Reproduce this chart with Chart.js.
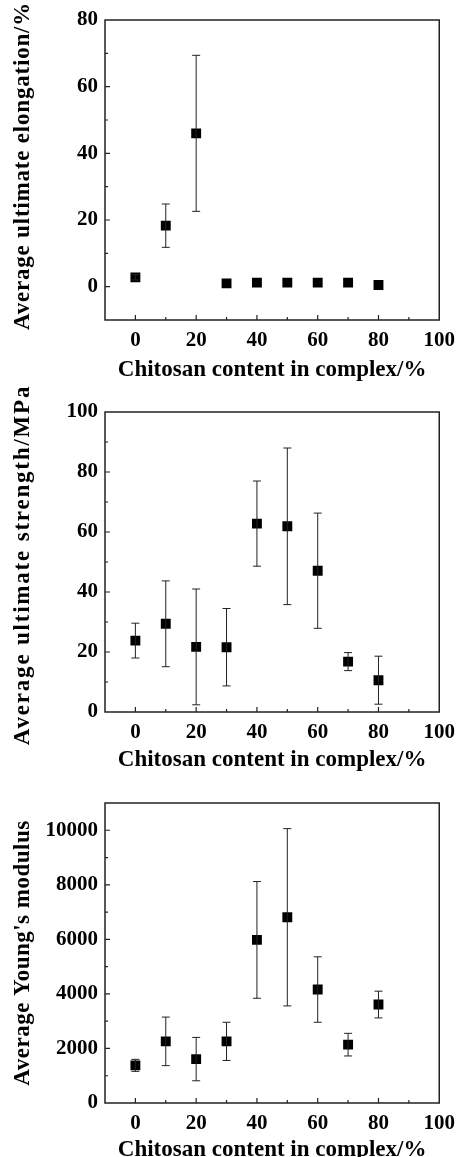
<!DOCTYPE html>
<html>
<head>
<meta charset="utf-8">
<script src="https://cdn.jsdelivr.net/npm/chart.js@4/dist/chart.umd.min.js"></script>
<style>
  html, body { margin: 0; padding: 0; background: #fff; overflow: hidden; }
  #wrap { position: relative; width: 463px; height: 1157px; }
  .panel { position: absolute; left: 0; width: 463px; }
</style>
</head>
<body>
<div id="wrap">
  <div class="panel" style="top:0;height:385px"><canvas id="c1"></canvas></div>
  <div class="panel" style="top:385px;height:390px"><canvas id="c2"></canvas></div>
  <div class="panel" style="top:775px;height:390px"><canvas id="c3"></canvas></div>
</div>
<script>
/* ── data ── */
const chitosan = [0, 10, 20, 30, 40, 50, 60, 70, 80];

const elongation    = [2.8, 18.3, 46.0, 1.0, 1.2, 1.2, 1.2, 1.2, 0.5];
const elongationErr = [0.8, 6.5, 23.4, 0, 0, 0, 0, 0, 0];

const strength    = [23.8, 29.4, 21.7, 21.6, 62.8, 61.9, 47.1, 16.8, 10.6];
const strengthErr = [5.8, 14.3, 19.3, 12.9, 14.2, 26.1, 19.2, 3.0, 8.0];

const modulus    = [1380, 2260, 1610, 2260, 5980, 6810, 4160, 2140, 3610];
const modulusErr = [220, 890, 795, 700, 2140, 3250, 1200, 415, 490];

const xTitle = 'Chitosan content in complex/%';
const serif = "'Liberation Serif', 'Times New Roman', serif";

// error bars, closed frame, inward tick marks, spaced-out y title
const framePlugin = {
  id: 'frame',
  afterDatasetsDraw(chart) {
    const { ctx, scales } = chart;
    const errs = chart.options.plugins.frame.errors;
    const ds = chart.data.datasets[0].data;
    ctx.save();
    ctx.strokeStyle = '#222'; ctx.lineWidth = 1;
    ds.forEach((p, i) => {
      const e = errs[i];
      if (!e) return;
      const x = scales.x.getPixelForValue(p.x);
      const yt = scales.y.getPixelForValue(p.y + e);
      const yb = scales.y.getPixelForValue(p.y - e);
      ctx.beginPath();
      ctx.moveTo(x, yt); ctx.lineTo(x, yb);
      ctx.moveTo(x - 4, yt); ctx.lineTo(x + 4, yt);
      ctx.moveTo(x - 4, yb); ctx.lineTo(x + 4, yb);
      ctx.stroke();
    });
    ctx.restore();
  },
  afterDraw(chart) {
    const { ctx, chartArea: a, scales } = chart;
    const o = chart.options.plugins.frame;
    ctx.save();
    ctx.strokeStyle = '#222'; ctx.lineWidth = 1.5;
    ctx.strokeRect(a.left, a.top, a.right - a.left, a.bottom - a.top);
    ctx.lineWidth = 1.2;
    ctx.beginPath();
    scales.x.ticks.forEach(t => {
      const x = scales.x.getPixelForValue(t.value);
      if (x <= a.left + 1 || x >= a.right - 1) return;
      const len = t.value % 20 === 0 ? 5 : 3;
      ctx.moveTo(x, a.bottom); ctx.lineTo(x, a.bottom - len);
    });
    scales.y.ticks.forEach(t => {
      const y = scales.y.getPixelForValue(t.value);
      if (y <= a.top + 1 || y >= a.bottom - 1) return;
      const len = t.value % o.major === 0 ? 5 : 3;
      ctx.moveTo(a.left, y); ctx.lineTo(a.left + len, y);
    });
    ctx.stroke();

    // y title
    ctx.translate(23, (a.top + a.bottom) / 2 + o.titleShift);
    ctx.rotate(-Math.PI / 2);
    ctx.font = 'bold 23px ' + serif;
    ctx.letterSpacing = o.spacing + 'px';
    ctx.fillStyle = '#000';
    ctx.textAlign = 'center'; ctx.textBaseline = 'middle';
    ctx.fillText(o.yTitle, 0, 0);
    ctx.restore();
  },
};
Chart.register(framePlugin);

function makePanel(id, vals, errs, yTitle, spacing, titleShift, yMin, yMax, yStep, yMajor, padTop) {
  const plotH = 300;
  const canvasH = document.getElementById(id).parentNode.clientHeight;
  return new Chart(document.getElementById(id).getContext('2d'), {
    type: 'scatter',
    data: {
      datasets: [{
        data: chitosan.map((x, i) => ({ x, y: vals[i] })),
        pointStyle: 'rect', pointRadius: 7, pointHoverRadius: 7,
        backgroundColor: '#000', borderColor: '#000', borderWidth: 0,
      }],
    },
    options: {
      responsive: true, maintainAspectRatio: false, animation: false,
      layout: { padding: { top: padTop, right: 18, left: 0, bottom: 0 } },
      plugins: {
        legend: { display: false }, tooltip: { enabled: false },
        frame: { errors: errs, major: yMajor, yTitle, spacing, titleShift },
      },
      scales: {
        x: {
          type: 'linear', min: -10, max: 100,
          grid: { display: false, drawTicks: false }, border: { display: false },
          afterFit: s => { s.height = canvasH - padTop - plotH; },
          ticks: {
            stepSize: 10, autoSkip: false, maxRotation: 0, padding: 8,
            color: '#000', font: { family: serif, size: 21, weight: 'bold' },
            callback: v => (v >= 0 && v % 20 === 0 ? String(v) : ''),
          },
          title: {
            display: true, text: xTitle, color: '#000',
            font: { family: serif, size: 23, weight: 'bold' }, padding: { top: 0, bottom: 1 },
          },
        },
        y: {
          type: 'linear', min: yMin, max: yMax,
          grid: { display: false, drawTicks: false }, border: { display: false },
          afterFit: s => { s.width = 105; },
          ticks: {
            stepSize: yStep, autoSkip: false, padding: 7,
            color: '#000', font: { family: serif, size: 21, weight: 'bold' },
            callback: v => (v >= 0 && v % yMajor === 0 ? String(v) : ''),
          },
          title: { display: false },
        },
      },
    },
  });
}

makePanel('c1', elongation, elongationErr, 'Average ultimate elongation/%', 0.8, -4, -10, 80, 10, 20, 20);
makePanel('c2', strength, strengthErr, 'Average ultimate strength/MPa', 1.8, 3, 0, 100, 10, 20, 27);
makePanel('c3', modulus, modulusErr, "Average Young's modulus", 0.5, 0, 0, 11000, 1000, 2000, 28);
</script>
</body>
</html>
